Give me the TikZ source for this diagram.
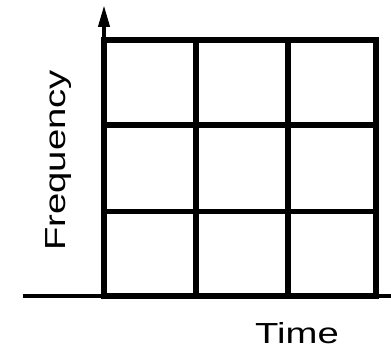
\documentclass[tikz,border=0pt]{standalone}
\usepackage{fontspec}
\setmainfont{Liberation Sans}
\usetikzlibrary{arrows.meta}

\begin{document}
\begin{tikzpicture}
        [x=1bp,y=1bp,
        axis/.style={line width=4bp},
        cell/.style={line width=5.5bp,line cap=rect},
        every node/.style={inner sep=0pt,font=\fontsize{29bp}{30bp}\selectfont}]
        \useasboundingbox (0,0) rectangle (391,354);
        % axes
        \coordinate (origin) at (104,58);
        \coordinate (xend) at (391,58);
        \coordinate (xstart) at (23,58);
        \coordinate (ytop) at (104,349);
        \draw[axis] (xstart) -- (xend);
        \draw[axis,-{Triangle[width=11bp,length=22bp]}] (origin) -- (ytop);
        % grid
        \foreach \x in {104,196,288,376}
            \draw[cell] (\x,58) -- (\x,314);
        \foreach \y in {58,142.5,229,314}
            \draw[cell] (104,\y) -- (376,\y);
        % labels
        \node[anchor=base] (time) at (297,11) {\scalebox{1.32}[1]{Time}};
        \node[anchor=base,rotate=90] (freq) at (65,193.5) {\scalebox{1.32}[1]{Frequency}};
\end{tikzpicture}
\end{document}
